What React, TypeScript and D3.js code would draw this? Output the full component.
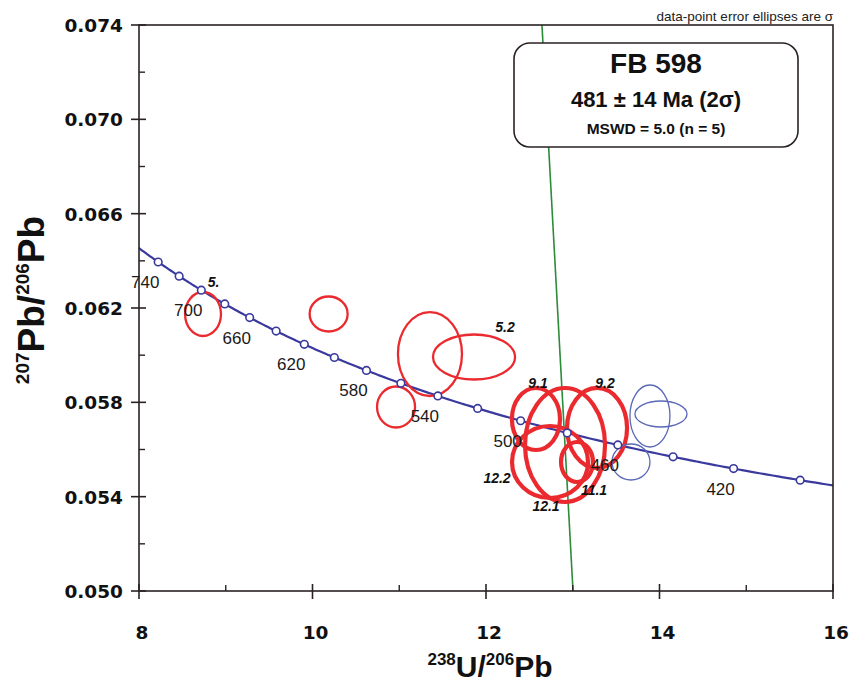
import React from "react";
import * as d3 from "d3";

// Tera-Wasserburg plot of zircon analyses for sample FB 598

const WIDTH = 851;
const HEIGHT = 692;
const PLOT = { left: 139, right: 833, top: 25, bottom: 591 };

// axes
const xDomain = [8, 16];
const yDomain = [0.05, 0.074];
const xMajorTicks = [8, 10, 12, 14, 16];
const xMinorTicks = [9, 11, 13, 15];
const yMajorTicks = [0.05, 0.054, 0.058, 0.062, 0.066, 0.07, 0.074];
const yMinorTicks = [0.052, 0.056, 0.06, 0.064, 0.068, 0.072];

// decay constants (per year) and present-day 238U/235U
const LAMBDA_238 = 1.55125e-10;
const LAMBDA_235 = 9.8485e-10;
const U238_U235 = 137.88;

// concordia age markers (Ma) and those that are labelled
const markerAges = [400, 420, 440, 460, 480, 500, 520, 540, 560, 580, 600, 620, 640, 660, 680, 700, 720, 740];
const labelledAges = [740, 700, 660, 620, 580, 540, 500, 460, 420];

// analyses: 238U/206Pb, 207Pb/206Pb and 1-sigma errors
const spotX = [8.738, 10.186, 11.354, 11.862, 10.963, 12.576, 12.911, 13.28, 12.738, 13.049, 13.89, 14.017, 13.671];
const spotY = [0.061745, 0.061745, 0.060049, 0.059922, 0.057802, 0.057293, 0.056191, 0.056911, 0.05547, 0.05547, 0.05742, 0.057505, 0.05547];
const spotSigX = [0.207, 0.219, 0.369, 0.473, 0.219, 0.277, 0.461, 0.346, 0.438, 0.184, 0.2305, 0.3, 0.219];
const spotSigY = [0.000933, 0.000742, 0.00178, 0.000954, 0.00087, 0.001315, 0.002417, 0.0017, 0.001527, 0.000848, 0.001315, 0.000551, 0.000763];
// 0 = excluded (thin red), 1 = used in the age (thick red), 2 = reverse-discordant (thin blue)
const spotGroup = [0, 0, 0, 0, 0, 1, 1, 1, 1, 1, 2, 2, 2];

// spot labels
const spotLabels = ["5.", "5.2", "9.1", "9.2", "12.2", "12.1", "11.1"];
const spotLabelX = [8.86, 12.219, 12.599, 13.372, 12.127, 12.692, 13.245];
const spotLabelY = [0.0631, 0.061194, 0.05882, 0.05882, 0.054791, 0.053604, 0.054283];

// regression line through the thick-red analyses
const regressionX = [12.645, 13.003];
const regressionY = [0.074, 0.05];

const FONT = "'Liberation Sans', Arial, Helvetica, sans-serif";
const TICK_FONT = "'DejaVu Sans', 'Liberation Sans', sans-serif";

const CONCORDIA = "#3a3a9e";
const RED = "#ea2a2e";
const BLUE_THIN = "#5a68b6";
const GREEN = "#2e8b3a";
const AXIS = "#2a2222";

function concordia(tMa: number): [number, number] {
  const t = tMa * 1e6;
  const e8 = Math.exp(LAMBDA_238 * t) - 1;
  const e5 = Math.exp(LAMBDA_235 * t) - 1;
  return [1 / e8, e5 / e8 / U238_U235];
}

export default function App() {
  const x = d3.scaleLinear().domain(xDomain).range([PLOT.left, PLOT.right]);
  const y = d3.scaleLinear().domain(yDomain).range([PLOT.bottom, PLOT.top]);

  const curveAges = d3.range(380, 772, 2);
  const curvePath = d3
    .line<number>()
    .x((t) => x(concordia(t)[0]))
    .y((t) => y(concordia(t)[1]))
    .curve(d3.curveMonotoneX)(curveAges) as string;

  const styleFor = (g: number) =>
    g === 0
      ? { stroke: RED, strokeWidth: 2.3 }
      : g === 1
      ? { stroke: RED, strokeWidth: 4.2 }
      : { stroke: BLUE_THIN, strokeWidth: 1.3 };

  return (
    <svg width={WIDTH} height={HEIGHT} style={{ display: "block", position: "absolute", left: 0, top: 0, background: "#fff" }}>
      <defs>
        <clipPath id="plot-clip">
          <rect x={PLOT.left} y={PLOT.top} width={PLOT.right - PLOT.left} height={PLOT.bottom - PLOT.top} />
        </clipPath>
      </defs>

      {/* note in the top right */}
      <text x={833} y={21} textAnchor="end" fontFamily={FONT} fontSize={13.5} fill="#222">
        data-point error ellipses are σ
      </text>

      <g clipPath="url(#plot-clip)">
        {/* regression line */}
        <line
          x1={x(regressionX[0])}
          y1={y(regressionY[0])}
          x2={x(regressionX[1])}
          y2={y(regressionY[1])}
          stroke={GREEN}
          strokeWidth={1.6}
        />

        {/* concordia */}
        <path d={curvePath} fill="none" stroke={CONCORDIA} strokeWidth={2.2} />

        {/* error ellipses */}
        {spotX.map((cx, i) => (
          <ellipse
            key={`e${i}`}
            cx={x(cx)}
            cy={y(spotY[i])}
            rx={x(cx + spotSigX[i]) - x(cx)}
            ry={y(spotY[i]) - y(spotY[i] + spotSigY[i])}
            fill="none"
            {...styleFor(spotGroup[i])}
          />
        ))}

        {/* age markers */}
        {markerAges.map((t) => {
          const [cx, cy] = concordia(t);
          return <circle key={`m${t}`} cx={x(cx)} cy={y(cy)} r={3.8} fill="#fff" stroke={CONCORDIA} strokeWidth={1.6} />;
        })}
      </g>

      {/* age labels */}
      {labelledAges.map((t) => {
        const [cx, cy] = concordia(t);
        return (
          <text
            key={`a${t}`}
            x={x(cx) - 13}
            y={y(cy) + 26}
            textAnchor="middle"
            fontFamily={FONT}
            fontSize={17}
            fill="#1a1a1a"
          >
            {t}
          </text>
        );
      })}

      {/* spot labels */}
      {spotLabels.map((s, i) => (
        <text
          key={`l${i}`}
          x={x(spotLabelX[i])}
          y={y(spotLabelY[i]) + 5}
          textAnchor="middle"
          fontFamily={FONT}
          fontSize={14}
          fontWeight="bold"
          fontStyle="italic"
          fill="#111"
        >
          {s}
        </text>
      ))}

      {/* frame */}
      <rect
        x={PLOT.left}
        y={PLOT.top}
        width={PLOT.right - PLOT.left}
        height={PLOT.bottom - PLOT.top}
        fill="none"
        stroke={AXIS}
        strokeWidth={1.6}
      />

      {/* x ticks */}
      {xMajorTicks.map((v) => (
        <g key={`xt${v}`}>
          <line x1={x(v)} x2={x(v)} y1={PLOT.bottom - 7} y2={PLOT.bottom + 8} stroke={AXIS} strokeWidth={1.6} />
          <text x={x(v) + 3} y={PLOT.bottom + 48} textAnchor="middle" fontFamily={TICK_FONT} fontWeight="bold" fontSize={18.5} fill="#111">
            {v}
          </text>
        </g>
      ))}
      {xMinorTicks.map((v) => (
        <line key={`xm${v}`} x1={x(v)} x2={x(v)} y1={PLOT.bottom - 6} y2={PLOT.bottom} stroke={AXIS} strokeWidth={1.4} />
      ))}

      {/* y ticks */}
      {yMajorTicks.map((v) => (
        <g key={`yt${v}`}>
          <line x1={PLOT.left - 8} x2={PLOT.left + 7} y1={y(v)} y2={y(v)} stroke={AXIS} strokeWidth={1.6} />
          <text x={PLOT.left - 16} y={y(v) + 7} textAnchor="end" fontFamily={TICK_FONT} fontWeight="bold" fontSize={18.5} fill="#111">
            {d3.format(".3f")(v)}
          </text>
        </g>
      ))}
      {yMinorTicks.map((v) => (
        <line key={`ym${v}`} x1={PLOT.left} x2={PLOT.left + 6} y1={y(v)} y2={y(v)} stroke={AXIS} strokeWidth={1.4} />
      ))}

      {/* axis titles */}
      <text x={490} y={677} textAnchor="middle" fontFamily={FONT} fontWeight="bold" fill="#111">
        <tspan fontSize={17} dy={-12}>238</tspan>
        <tspan fontSize={30} dy={12}>U/</tspan>
        <tspan fontSize={17} dy={-12}>206</tspan>
        <tspan fontSize={30} dy={12}>Pb</tspan>
      </text>
      <text
        transform={`translate(44, ${(PLOT.top + PLOT.bottom) / 2 - 8}) rotate(-90)`}
        textAnchor="middle"
        fontFamily={FONT}
        fontWeight="bold"
        fill="#111"
      >
        <tspan fontSize={19} dy={-15}>207</tspan>
        <tspan fontSize={37} dy={15}>Pb/</tspan>
        <tspan fontSize={19} dy={-15}>206</tspan>
        <tspan fontSize={37} dy={15}>Pb</tspan>
      </text>

      {/* result box */}
      <rect x={514} y={43} width={284} height={104} rx={16} ry={16} fill="#fff" stroke={AXIS} strokeWidth={1.6} />
      <text x={656} y={73} textAnchor="middle" fontFamily={FONT} fontWeight="bold" fontSize={28} fill="#111">
        FB 598
      </text>
      <text x={656} y={107} textAnchor="middle" fontFamily={FONT} fontWeight="bold" fontSize={22} fill="#111">
        481 ± 14 Ma (2σ)
      </text>
      <text x={656} y={134} textAnchor="middle" fontFamily={FONT} fontWeight="bold" fontSize={15.5} fill="#111">
        MSWD = 5.0 (n = 5)
      </text>
    </svg>
  );
}
